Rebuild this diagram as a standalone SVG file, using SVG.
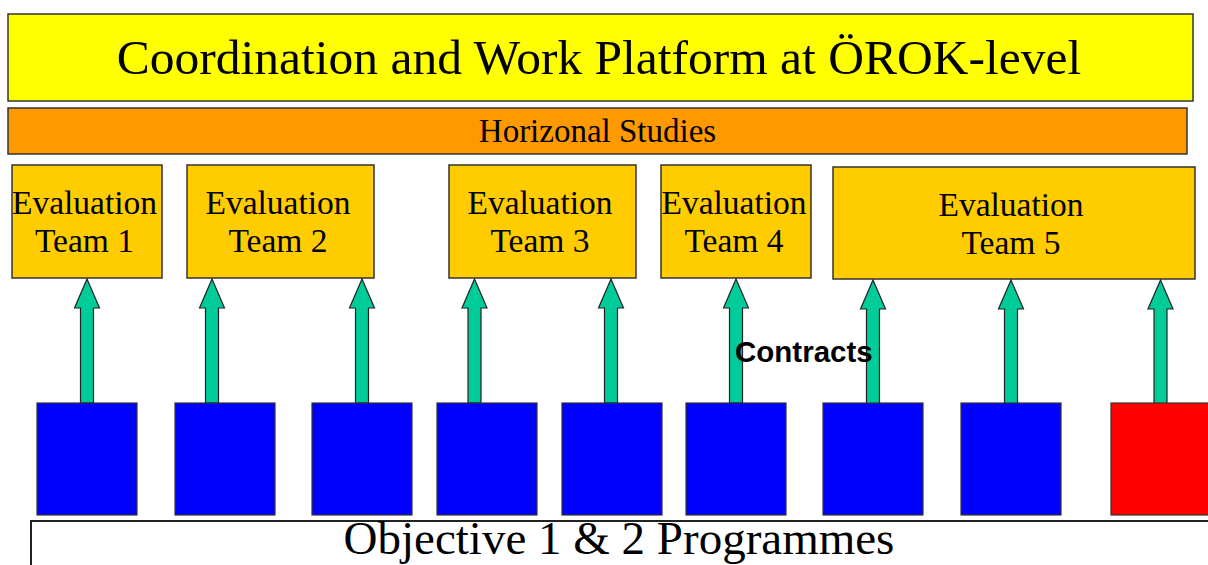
<svg xmlns="http://www.w3.org/2000/svg" width="1208" height="565" viewBox="0 0 1208 565">
  <style>
    .box { stroke: #333333; stroke-width: 1.5; }
    .serif { font-family: "Liberation Serif", "Times New Roman", serif; fill: #000000; text-anchor: middle; }
    .team { fill: #FFCC00; }
    .team-text { font-size: 33.5px; }
    .prog { fill: #0000FF; stroke: #333333; stroke-width: 1.2; }
    .prog-red { fill: #FF0000; stroke: #333333; stroke-width: 1.2; }
    .arrow { fill: #00CC99; stroke: #222222; stroke-width: 1.2; stroke-linejoin: miter; }
    .label { font-family: "Liberation Sans", Arial, sans-serif; font-weight: bold; font-size: 29.5px; fill: #000000; }
  </style>
  <defs>
    <!-- block arrow pointing up, tip at (0,0), shaft reaching down to y=124 -->
    <path id="up-arrow" d="M0,0 L12.5,29 L6.5,29 L6.5,124 L-6.5,124 L-6.5,29 L-12.5,29 Z"/>
  </defs>
  <rect width="1208" height="565" fill="#FFFFFF"/>

  <g id="platform">
    <rect class="box" x="8" y="14" width="1185" height="87" fill="#FFFF00"/>
    <text class="serif" x="599" y="74" font-size="49.5">Coordination and Work Platform at ÖROK-level</text>
  </g>

  <g id="horizontal-studies">
    <rect class="box" x="8" y="108" width="1179" height="46" fill="#FF9900"/>
    <text class="serif" x="597.5" y="142" font-size="33">Horizonal Studies</text>
  </g>

  <g id="team-1">
    <rect class="box team" x="12" y="165" width="150" height="113"/>
    <text class="serif team-text" x="84.5" y="214">Evaluation</text>
    <text class="serif team-text" x="84.5" y="252">Team 1</text>
  </g>
  <g id="team-2">
    <rect class="box team" x="187" y="165" width="187" height="113"/>
    <text class="serif team-text" x="278" y="214">Evaluation</text>
    <text class="serif team-text" x="278" y="252">Team 2</text>
  </g>
  <g id="team-3">
    <rect class="box team" x="449" y="165" width="187" height="113"/>
    <text class="serif team-text" x="540" y="214">Evaluation</text>
    <text class="serif team-text" x="540" y="252">Team 3</text>
  </g>
  <g id="team-4">
    <rect class="box team" x="661" y="165" width="150" height="113"/>
    <text class="serif team-text" x="734" y="214">Evaluation</text>
    <text class="serif team-text" x="734" y="252">Team 4</text>
  </g>
  <g id="team-5">
    <rect class="box team" x="833" y="167" width="362" height="112"/>
    <text class="serif team-text" x="1011" y="216">Evaluation</text>
    <text class="serif team-text" x="1011" y="254">Team 5</text>
  </g>

  <g id="connectors">
    <use href="#up-arrow" class="arrow" x="87" y="279"/>
    <use href="#up-arrow" class="arrow" x="212" y="279"/>
    <use href="#up-arrow" class="arrow" x="362" y="279"/>
    <use href="#up-arrow" class="arrow" x="474.5" y="279"/>
    <use href="#up-arrow" class="arrow" x="611" y="279"/>
    <use href="#up-arrow" class="arrow" x="736" y="279"/>
    <use href="#up-arrow" class="arrow" x="873" y="280"/>
    <use href="#up-arrow" class="arrow" x="1011" y="280"/>
    <use href="#up-arrow" class="arrow" x="1160.5" y="280"/>
    <text class="label" x="735" y="362">Contracts</text>
  </g>

  <g id="programme-1"><rect class="prog" x="37" y="403" width="100" height="112"/></g>
  <g id="programme-2"><rect class="prog" x="175" y="403" width="100" height="112"/></g>
  <g id="programme-3"><rect class="prog" x="312" y="403" width="100" height="112"/></g>
  <g id="programme-4"><rect class="prog" x="437" y="403" width="100" height="112"/></g>
  <g id="programme-5"><rect class="prog" x="562" y="403" width="100" height="112"/></g>
  <g id="programme-6"><rect class="prog" x="686" y="403" width="100" height="112"/></g>
  <g id="programme-7"><rect class="prog" x="823" y="403" width="100" height="112"/></g>
  <g id="programme-8"><rect class="prog" x="961" y="403" width="100" height="112"/></g>
  <g id="programme-9"><rect class="prog-red" x="1111" y="403" width="110" height="112"/></g>

  <g id="objective-programmes">
    <rect x="31" y="521" width="1200" height="60" fill="#FFFFFF" stroke="#222222" stroke-width="2"/>
    <text class="serif" x="619" y="554" font-size="47">Objective 1 &amp; 2 Programmes</text>
  </g>
</svg>
